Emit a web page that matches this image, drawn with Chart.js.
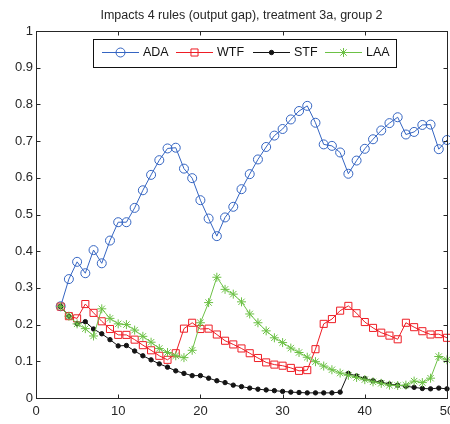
<!DOCTYPE html>
<html>
<head>
<meta charset="utf-8">
<title>Impacts 4 rules (output gap), treatment 3a, group 2</title>
<script src="https://cdn.jsdelivr.net/npm/chart.js@4.4.1/dist/chart.umd.min.js"></script>
<style>
  html, body { margin: 0; padding: 0; background: #fff; }
  canvas { display: block; }
</style>
</head>
<body>
<canvas id="impacts-chart" width="450" height="424"></canvas>
<script>
var chartTitle = 'Impacts 4 rules (output gap), treatment 3a, group 2';

var periods = [3, 4, 5, 6, 7, 8, 9, 10, 11, 12, 13, 14, 15, 16, 17, 18, 19, 20, 21, 22, 23, 24, 25, 26,
  27, 28, 29, 30, 31, 32, 33, 34, 35, 36, 37, 38, 39, 40, 41, 42, 43, 44, 45, 46, 47, 48, 49, 50];

var adaValues = [0.250, 0.324, 0.371, 0.340, 0.403, 0.367, 0.429, 0.479, 0.479, 0.518, 0.566, 0.608,
  0.648, 0.680, 0.682, 0.625, 0.599, 0.539, 0.489, 0.441, 0.492, 0.521, 0.569, 0.610, 0.650, 0.684,
  0.715, 0.733, 0.759, 0.782, 0.796, 0.750, 0.691, 0.687, 0.669, 0.611, 0.647, 0.679, 0.705, 0.729,
  0.749, 0.765, 0.718, 0.725, 0.744, 0.745, 0.678, 0.703];

var wtfValues = [0.249, 0.223, 0.217, 0.256, 0.232, 0.209, 0.188, 0.172, 0.172, 0.159, 0.144, 0.130,
  0.115, 0.104, 0.122, 0.189, 0.205, 0.188, 0.189, 0.173, 0.156, 0.146, 0.135, 0.122, 0.109, 0.097,
  0.091, 0.088, 0.082, 0.074, 0.076, 0.133, 0.202, 0.215, 0.238, 0.251, 0.231, 0.207, 0.191, 0.178,
  0.170, 0.160, 0.205, 0.193, 0.182, 0.173, 0.174, 0.164];

var stfValues = [0.249, 0.223, 0.202, 0.208, 0.188, 0.175, 0.159, 0.142, 0.143, 0.128, 0.115, 0.104,
  0.093, 0.084, 0.074, 0.067, 0.061, 0.061, 0.054, 0.047, 0.042, 0.035, 0.031, 0.027, 0.024, 0.022,
  0.020, 0.018, 0.016, 0.015, 0.014, 0.014, 0.014, 0.014, 0.016, 0.067, 0.060, 0.053, 0.047, 0.043,
  0.038, 0.035, 0.032, 0.029, 0.026, 0.025, 0.027, 0.025];

var laaValues = [0.249, 0.223, 0.202, 0.189, 0.169, 0.243, 0.217, 0.202, 0.200, 0.185, 0.168, 0.152,
  0.135, 0.124, 0.115, 0.110, 0.130, 0.205, 0.260, 0.329, 0.296, 0.283, 0.262, 0.229, 0.205, 0.183,
  0.164, 0.151, 0.136, 0.124, 0.111, 0.099, 0.087, 0.077, 0.068, 0.062, 0.056, 0.050, 0.044, 0.040,
  0.035, 0.034, 0.035, 0.046, 0.042, 0.054, 0.113, 0.104];

var xTicks = [0, 10, 20, 30, 40, 50];
var yTicks = [0, 0.1, 0.2, 0.3, 0.4, 0.5, 0.6, 0.7, 0.8, 0.9, 1];

var fontFamily = '"Liberation Sans", Arial, Helvetica, sans-serif';
var axisColor = '#262626';

function toPoints(values) {
  return values.map(function (v, i) { return { x: periods[i], y: v }; });
}

function makeSeries(label, values, color, style, radius, filled, order) {
  return {
    label: label,
    data: toPoints(values),
    borderColor: color,
    borderWidth: 1,
    pointStyle: style,
    pointRadius: radius,
    pointHoverRadius: radius,
    pointBorderColor: color,
    pointBorderWidth: 1,
    pointBackgroundColor: filled ? color : 'rgba(0,0,0,0)',
    tension: 0,
    clip: false,
    order: order
  };
}

var series = [
  makeSeries('ADA', adaValues, '#3565c2', 'circle', 4.5, false, 3),
  makeSeries('WTF', wtfValues, '#ee1d25', 'rect', 5, false, 2),
  makeSeries('STF', stfValues, '#141414', 'circle', 2.2, true, 1),
  makeSeries('LAA', laaValues, '#6cc145', 'star', 4.5, false, 0)
];

// draws one marker the same way for legend samples
function drawMarker(ctx, ds, x, y) {
  var r = ds.pointRadius;
  ctx.beginPath();
  ctx.strokeStyle = ds.pointBorderColor;
  ctx.fillStyle = ds.pointBackgroundColor;
  ctx.lineWidth = 1;
  if (ds.pointStyle === 'circle') {
    ctx.arc(x, y, r, 0, Math.PI * 2);
    ctx.fill();
    ctx.stroke();
  } else if (ds.pointStyle === 'rect') {
    var s = r * Math.SQRT1_2;
    ctx.rect(x - s, y - s, 2 * s, 2 * s);
    ctx.stroke();
  } else if (ds.pointStyle === 'star') {
    for (var k = 0; k < 4; k++) {
      var a = k * Math.PI / 4;
      ctx.moveTo(x - Math.cos(a) * r, y - Math.sin(a) * r);
      ctx.lineTo(x + Math.cos(a) * r, y + Math.sin(a) * r);
    }
    ctx.stroke();
  }
}

// box around the axes, inward ticks on all four sides, title and legend
var matlabFrame = {
  id: 'matlabFrame',
  afterDraw: function (chart) {
    var ctx = chart.ctx;
    var area = chart.chartArea;
    var xs = chart.scales.x;
    var ys = chart.scales.y;
    var left = Math.round(area.left) + 0.5;
    var right = Math.round(area.right) + 0.5;
    var top = Math.round(area.top) + 0.5;
    var bottom = Math.round(area.bottom) + 0.5;
    var tickLen = 4;

    ctx.save();
    ctx.strokeStyle = axisColor;
    ctx.lineWidth = 1;
    ctx.strokeRect(left, top, right - left, bottom - top);

    ctx.beginPath();
    xTicks.forEach(function (t) {
      var px = Math.round(xs.getPixelForValue(t)) + 0.5;
      ctx.moveTo(px, bottom); ctx.lineTo(px, bottom - tickLen);
      ctx.moveTo(px, top); ctx.lineTo(px, top + tickLen);
    });
    yTicks.forEach(function (t) {
      var py = Math.round(ys.getPixelForValue(t)) + 0.5;
      ctx.moveTo(left, py); ctx.lineTo(left + tickLen, py);
      ctx.moveTo(right, py); ctx.lineTo(right - tickLen, py);
    });
    ctx.stroke();

    // title
    ctx.fillStyle = '#262626';
    ctx.font = '12.5px ' + fontFamily;
    ctx.textAlign = 'center';
    ctx.textBaseline = 'middle';
    ctx.fillText(chartTitle, (area.left + area.right) / 2, 16);

    // legend box
    var box = { x: 93.5, y: 39.5, w: 303, h: 28 };
    ctx.fillStyle = '#fff';
    ctx.fillRect(box.x, box.y, box.w, box.h);
    ctx.strokeStyle = '#111';
    ctx.strokeRect(box.x, box.y, box.w, box.h);

    var cy = 52;
    var itemX = [102, 176, 253, 325];
    ctx.textAlign = 'left';
    chart.data.datasets.forEach(function (ds, i) {
      var x0 = itemX[i];
      ctx.beginPath();
      ctx.strokeStyle = ds.borderColor;
      ctx.lineWidth = 1;
      ctx.moveTo(x0, cy + 0.5);
      ctx.lineTo(x0 + 37, cy + 0.5);
      ctx.stroke();
      drawMarker(ctx, ds, x0 + 18.5, cy + 0.5);
      ctx.fillStyle = '#111';
      ctx.font = '12.5px ' + fontFamily;
      ctx.fillText(ds.label, x0 + 41, cy + 1);
    });
    ctx.restore();
  }
};

var chartContext = document.getElementById('impacts-chart');
var chart = new Chart(chartContext, {
  type: 'line',
  data: { datasets: series },
  options: {
    responsive: false,
    animation: false,
    events: [],
    layout: {
      autoPadding: false,
      padding: { top: 31, right: 3, bottom: 0, left: 0 }
    },
    plugins: {
      legend: { display: false },
      title: { display: false },
      tooltip: { enabled: false }
    },
    scales: {
      x: {
        type: 'linear',
        min: 0,
        max: 50,
        afterFit: function (scale) {
          scale.height = 26;
          // let the "50" label run past the right edge of the axes
          scale.paddingLeft = 0;
          scale.paddingRight = 0;
        },
        afterBuildTicks: function (scale) {
          scale.ticks = xTicks.map(function (v) { return { value: v }; });
        },
        grid: { display: false, drawTicks: false },
        border: { display: false },
        ticks: {
          padding: 6,
          color: '#262626',
          font: { family: fontFamily, size: 13 },
          maxRotation: 0
        }
      },
      y: {
        type: 'linear',
        min: 0,
        max: 1,
        afterFit: function (scale) {
          scale.width = 36;
          scale.paddingTop = 0;
          scale.paddingBottom = 0;
        },
        afterBuildTicks: function (scale) {
          scale.ticks = yTicks.map(function (v) { return { value: v }; });
        },
        grid: { display: false, drawTicks: false },
        border: { display: false },
        ticks: {
          padding: 3,
          color: '#262626',
          font: { family: fontFamily, size: 13 },
          callback: function (v) { return String(+v.toFixed(1)); }
        }
      }
    }
  },
  plugins: [matlabFrame]
});
</script>
</body>
</html>
